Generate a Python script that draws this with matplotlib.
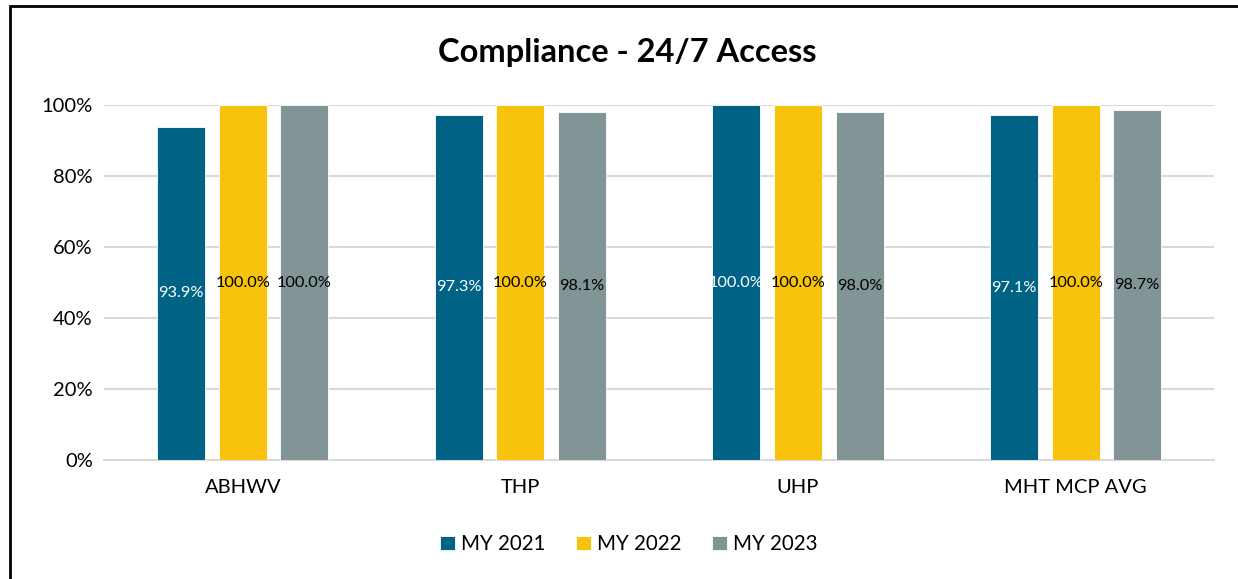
import numpy as np
import matplotlib
matplotlib.use("Agg")
import matplotlib.pyplot as plt
from matplotlib.patches import Rectangle

plt.rcParams['font.family'] = ['Lato', 'DejaVu Sans']

# Data
plans = ["ABHWV", "THP", "UHP", "MHT MCP AVG"]
years = ["MY 2021", "MY 2022", "MY 2023"]
my2021 = [93.9, 97.3, 100.0, 97.1]
my2022 = [100.0, 100.0, 100.0, 100.0]
my2023 = [100.0, 98.1, 98.0, 98.7]
colors = ["#006385", "#F8C30D", "#829596"]
label_colors = ["white", "black", "black"]

fig = plt.figure(figsize=(12.38, 5.79), dpi=100)
ax = fig.add_axes([0.084, 0.2055, 0.897, 0.613])

x = np.arange(len(plans))
width = 0.173
offset = 0.222
for i, (vals, name) in enumerate(zip([my2021, my2022, my2023], years)):
    bars = ax.bar(x + (i - 1) * offset, vals, width, color=colors[i], label=name,
                  zorder=3, edgecolor="white", linewidth=0.6)
    for b, v in zip(bars, vals):
        ax.text(b.get_x() + b.get_width() / 2, v / 2, f"{v:.1f}%",
                ha="center", va="center", fontsize=11.8, color=label_colors[i], zorder=4)

ax.set_xlim(-0.5, len(plans) - 0.5)
ax.set_ylim(0, 100)
ax.set_yticks(np.arange(0, 101, 20))
ax.set_yticklabels([f"{t}%" for t in range(0, 101, 20)], fontsize=14.5)
ax.set_xticks(x)
ax.set_xticklabels(plans, fontsize=14.5)
ax.tick_params(length=0, pad=8)
ax.tick_params(axis="x", pad=14)
ax.grid(axis="y", color="#d9d9d9", linewidth=1.5, zorder=0)
ax.set_axisbelow(True)
for s in ["top", "right", "left"]:
    ax.spines[s].set_visible(False)
ax.spines["bottom"].set_color("#d9d9d9")
ax.spines["bottom"].set_linewidth(1.5)

fig.text(0.507, 0.909, "Compliance - 24/7 Access", ha="center", va="center",
         fontsize=23.5, fontweight="bold")

fig.legend(loc="center", bbox_to_anchor=(0.508, 0.06), ncol=3, frameon=False,
           fontsize=14.8, handlelength=0.7, handleheight=0.7, handletextpad=0.3,
           columnspacing=1.5)

# outer border of the embedded chart
fig.add_artist(Rectangle((10 / 1238, -0.1), 1.2, 0.1 + 573 / 579, transform=fig.transFigure,
                         fill=False, edgecolor="black", linewidth=2))

fig.savefig("out.png", dpi=100)
